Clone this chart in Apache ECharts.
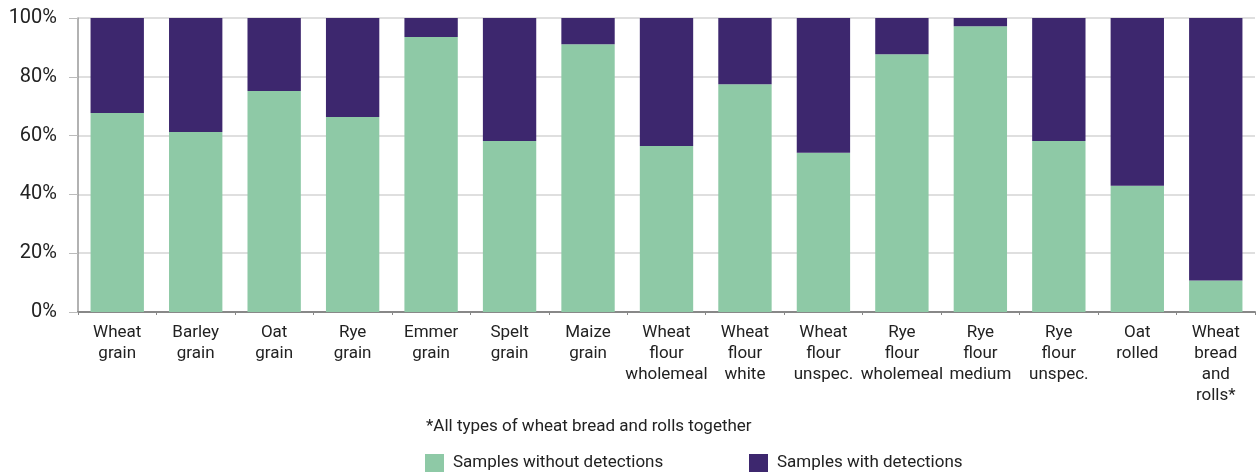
<!DOCTYPE html>
<html>
<head>
<meta charset="utf-8">
<script src="https://cdn.jsdelivr.net/npm/echarts@6/dist/echarts.min.js"></script>
<style>
  html, body { margin: 0; padding: 0; background: #fff; }
  #chart { width: 1256px; height: 476px; }
</style>
</head>
<body>
<div id="chart"></div>
<script>
// categories (line breaks as in the original)
var categories = [
  "Wheat\ngrain", "Barley\ngrain", "Oat\ngrain", "Rye\ngrain", "Emmer\ngrain",
  "Spelt\ngrain", "Maize\ngrain", "Wheat\nflour\nwholemeal", "Wheat\nflour\nwhite",
  "Wheat\nflour\nunspec.", "Rye\nflour\nwholemeal", "Rye\nflour\nmedium",
  "Rye\nflour\nunspec.", "Oat\nrolled", "Wheat\nbread\nand\nrolls*"
];
// share of samples (%)
var withoutDetections = [67.7, 61.2, 75.2, 66.3, 93.5, 58.2, 91.1, 56.5, 77.5, 54.2, 87.7, 97.2, 58.2, 42.9, 10.7];
var withDetections = [32.3, 38.8, 24.8, 33.7, 6.5, 41.8, 8.9, 43.5, 22.5, 45.8, 12.3, 2.8, 41.8, 57.1, 89.3];
var yTicks = [0, 20, 40, 60, 80, 100];

var font = "Roboto, sans-serif";
var chart = echarts.init(document.getElementById("chart"));

var legendText = { fontFamily: font, fontSize: 17, color: "#222", padding: [0, 0, 0, 4] };

chart.setOption({
  animation: false,
  textStyle: { fontFamily: font },
  title: {
    text: "*All types of wheat bread and rolls together",
    left: 421,
    top: 413,
    textStyle: { fontFamily: font, fontSize: 17, fontWeight: "normal", color: "#222" }
  },
  legend: [
    {
      data: [{ name: "Samples without detections", icon: "rect" }],
      left: 420, top: 449,
      itemWidth: 19, itemHeight: 18,
      textStyle: legendText
    },
    {
      data: [{ name: "Samples with detections", icon: "rect" }],
      left: 744, top: 449,
      itemWidth: 19, itemHeight: 18,
      textStyle: legendText
    }
  ],
  grid: { left: 78, right: 1, top: 18, bottom: 164 },
  xAxis: {
    type: "category",
    data: categories,
    axisLine: { lineStyle: { color: "#888", width: 2 } },
    axisTick: { show: true, length: 3, lineStyle: { color: "#888" } },
    axisLabel: { color: "#222", fontSize: 17, lineHeight: 21, margin: 10, interval: 0, fontFamily: font }
  },
  yAxis: {
    type: "value",
    min: 0, max: 100, interval: 20,
    axisLine: { show: true, lineStyle: { color: "#999", width: 1.5 } },
    axisTick: { show: true, length: 9, lineStyle: { color: "#bbb" } },
    splitLine: { lineStyle: { color: "#d4d4d4", width: 1.5 } },
    axisLabel: {
      color: "#222", fontSize: 20, margin: 21, fontFamily: font,
      formatter: function (v) { return yTicks.indexOf(v) >= 0 ? v + "%" : ""; }
    }
  },
  series: [
    {
      name: "Samples without detections",
      type: "bar",
      stack: "total",
      barCategoryGap: "32%",
      itemStyle: { color: "#8ec9a6" },
      data: withoutDetections
    },
    {
      name: "Samples with detections",
      type: "bar",
      stack: "total",
      barCategoryGap: "32%",
      itemStyle: { color: "#3d276e" },
      data: withDetections
    }
  ]
});
</script>
</body>
</html>
